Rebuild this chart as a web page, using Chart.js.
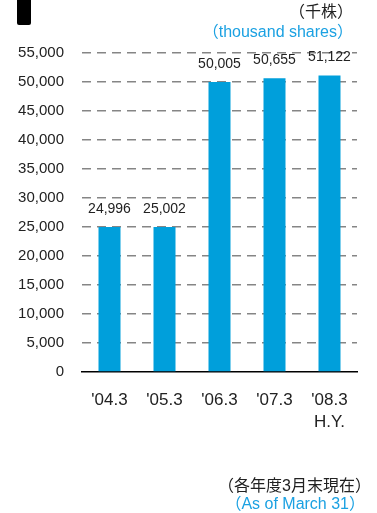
<!DOCTYPE html>
<html>
<head>
<meta charset="utf-8">
<script src="https://cdn.jsdelivr.net/npm/chart.js@4.4.0/dist/chart.umd.min.js"></script>
<style>
  html, body { margin: 0; padding: 0; background: #fff; }
  #wrap { position: relative; width: 377px; height: 513px; overflow: hidden; }
  #wrap canvas { position: absolute; left: 0; top: 0; }
  .t { position: absolute; white-space: nowrap; font-family: "Liberation Sans", "Noto Sans CJK JP", sans-serif; line-height: 1; }
  .blk { position: absolute; left: 17px; top: 0; width: 14px; height: 25px; background: #000; border-radius: 0 0 2px 2px; }
</style>
</head>
<body>
<div id="wrap">
  <canvas id="c" width="377" height="513"></canvas>
  <div class="blk"></div>
  <div class="t" style="right:24px; top:4px; font-size:16px; color:#222;">（千株）</div>
  <div class="t" style="right:24px; top:24px; font-size:16px; color:#1ba1e2;">（thousand shares）</div>
  <div class="t" style="right:6px; top:478px; font-size:16px; color:#222;">（各年度3月末現在）</div>
  <div class="t" style="right:12px; top:496px; font-size:16px; color:#1ba1e2;">（As of March 31）</div>
</div>
<script>
const categories = ["'04.3", "'05.3", "'06.3", "'07.3", ["'08.3", "H.Y."]];
const shares = [24996, 25002, 50005, 50655, 51122];
const yMin = 0, yMax = 55000, yStep = 5000;

const fmt = v => v.toLocaleString('en-US');

const valueLabels = {
  id: 'valueLabels',
  afterDatasetsDraw(chart) {
    const ctx = chart.ctx;
    const meta = chart.getDatasetMeta(0);
    ctx.save();
    ctx.font = '14px "Liberation Sans", Arial, sans-serif';
    ctx.fillStyle = '#222';
    ctx.textAlign = 'center';
    ctx.textBaseline = 'middle';
    meta.data.forEach((bar, i) => {
      ctx.fillText(fmt(shares[i]), bar.x, bar.y - 18);
    });
    ctx.restore();
  }
};

new Chart(document.getElementById('c'), {
  type: 'bar',
  data: {
    labels: categories,
    datasets: [{
      data: shares,
      backgroundColor: '#009fdb',
      borderWidth: 0,
      barPercentage: 0.4,
      categoryPercentage: 1.0
    }]
  },
  options: {
    responsive: false,
    animation: false,
    devicePixelRatio: 1,
    layout: { padding: { left: 0, right: 20, top: 53, bottom: 0 } },
    plugins: { legend: { display: false }, tooltip: { enabled: false } },
    scales: {
      x: {
        grid: { display: false, drawTicks: false },
        border: { display: true, color: '#000', width: 1.5 },
        ticks: {
          color: '#222',
          padding: 17,
          font: { family: '"Liberation Sans", Arial, sans-serif', size: 17, lineHeight: 1.3 }
        },
        afterFit: s => { s.height = 141; }
      },
      y: {
        min: yMin, max: yMax,
        grid: {
          drawTicks: false,
          color: c => (c.tick && c.tick.value === 0) ? 'rgba(0,0,0,0)' : '#858585',
          lineWidth: 1.5
        },
        border: { display: false, dash: [9, 6] },
        ticks: {
          stepSize: yStep,
          color: '#222',
          padding: 18,
          font: { family: '"Liberation Sans", Arial, sans-serif', size: 15 },
          callback: v => fmt(v)
        },
        afterFit: s => { s.width = 82; }
      }
    }
  },
  plugins: [valueLabels]
});
</script>
</body>
</html>
